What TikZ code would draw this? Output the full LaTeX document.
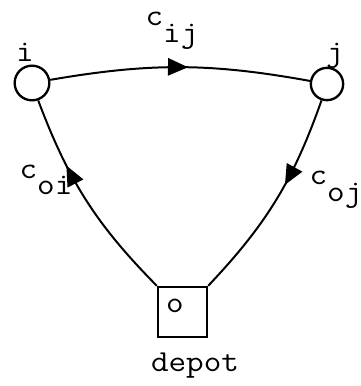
\documentclass[tikz,border=0pt]{standalone}
\usepackage{fontspec}
\usetikzlibrary{arrows.meta,decorations.markings}

\newcommand{\tw}[1]{\scalebox{1.12}[1]{#1}}
\newcommand{\lowsub}[2]{#1\raisebox{-0.55em}{#2}}

\begin{document}
\begin{tikzpicture}[
    x=0.03cm, y=0.03cm,
    city/.style={circle, draw, line width=2pt, minimum size=#1, inner sep=0pt},
    depotbox/.style={rectangle, draw, line width=2pt, minimum width=1.47cm, minimum height=1.5cm, inner sep=0pt},
    lbl/.style={font=\fontsize{26}{30}\selectfont\ttfamily, inner sep=0pt},
    route/.style={line width=1.7pt, postaction={decorate}},
    midarrow/.style={decoration={markings, mark=at position #1 with {\arrow{Triangle[length=0.6cm,width=0.52cm]}}}}
]
\useasboundingbox (0,0) rectangle (361,386);

% customers and depot
\node[city=1.04cm] (i) at (32,303) {};
\node[city=0.97cm] (j) at (327,302) {};
\node[depotbox] (depot) at (182.5,74) {};

% arcs of the tour
\draw[route, midarrow=0.53] (i) to[bend left=10] (j);
\draw[route, midarrow=0.68] (depot.north west) to[bend left=12] (i);
\draw[route, midarrow=0.42] (j) to[bend left=12] (depot.north east);

% labels
\node[lbl] (lij) at (172,355) {\tw{\lowsub{c}{ij}}};
\node[lbl] (li) at (25,334) {\tw{i}};
\node[lbl] (lj) at (335,330) {\tw{j}};
\node[lbl] (loi) at (46,206) {\tw{\lowsub{c}{oi}}};
\node[lbl] (loj) at (336,196) {\tw{\lowsub{c}{oj}}};
\node[lbl] (lo) at (175,80) {\tw{o}};
\node[lbl] (ldepot) at (195,20) {\tw{depot}};
\end{tikzpicture}
\end{document}
